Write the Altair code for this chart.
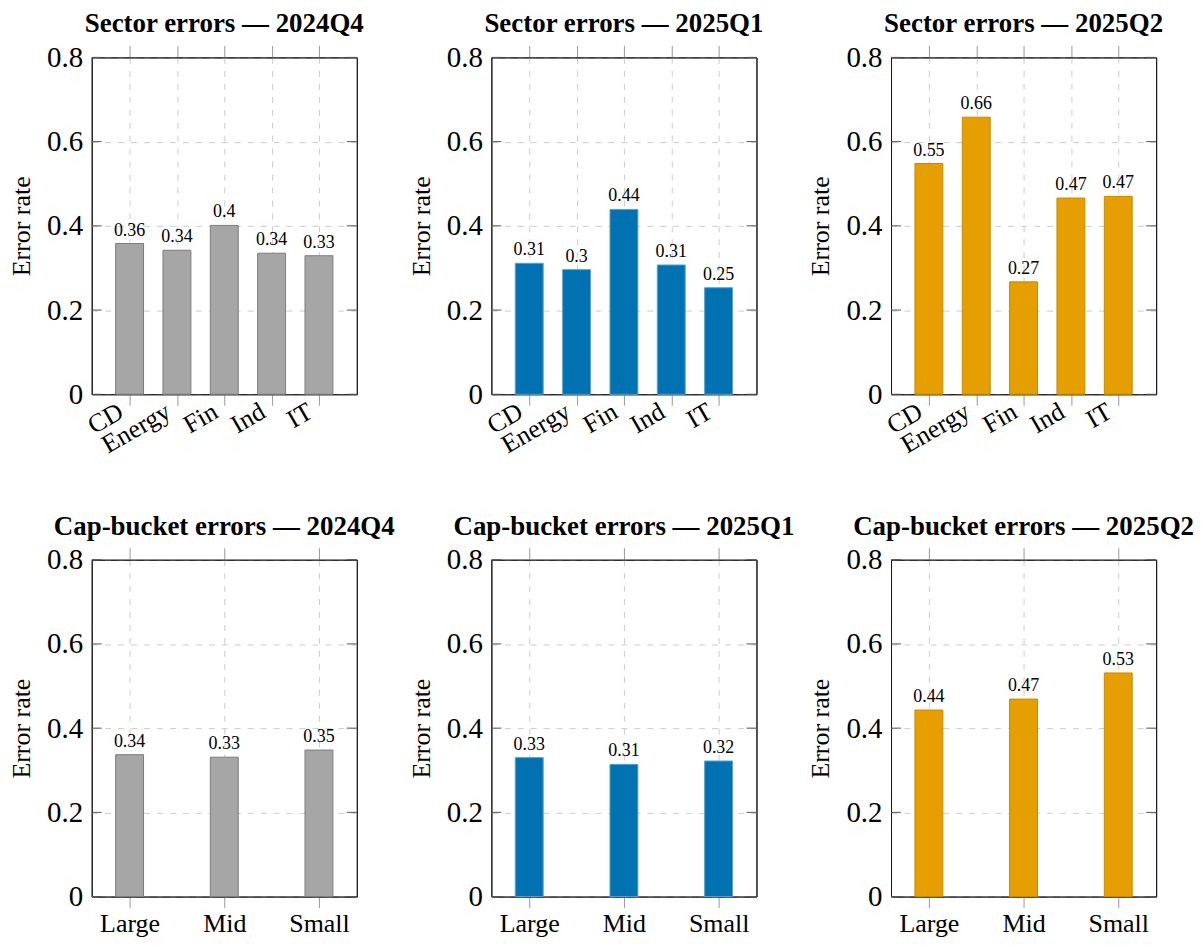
import altair as alt
import pandas as pd

quarters = ["2024Q4", "2025Q1", "2025Q2"]
sectors = ["CD", "Energy", "Fin", "Ind", "IT"]
sector_2024Q4 = [0.358, 0.342, 0.401, 0.335, 0.329]
sector_2025Q1 = [0.311, 0.296, 0.439, 0.307, 0.253]
sector_2025Q2 = [0.548, 0.658, 0.267, 0.466, 0.470]
caps = ["Large", "Mid", "Small"]
cap_2024Q4 = [0.337, 0.331, 0.348]
cap_2025Q1 = [0.330, 0.314, 0.322]
cap_2025Q2 = [0.443, 0.469, 0.531]
y_ticks = [0, 0.2, 0.4, 0.6, 0.8]

fills = ["#a6a6a6", "#0072b2", "#e69f00"]
strokes = ["#7c7c7c", "#5b9fd0", "#c68a00"]

FONT = "Liberation Serif"
FRAME = "#1a1a1a"
W, H = 266, 338


def panel(title, cats, vals, qi, rotate):
    df = pd.DataFrame({"cat": cats, "v": vals})
    tdf = pd.DataFrame({"v": y_ticks})
    pad = 0.8 if len(cats) == 5 else 0.4
    xscale = alt.Scale(type="point", domain=cats, padding=pad)
    yscale = alt.Scale(domain=[0, 0.8], nice=False, zero=True)
    common_x = dict(title=None, domain=True, domainColor=FRAME, domainWidth=1,
                    grid=True, gridColor="#cccccc", gridDash=[6, 7],
                    tickColor="#999999", tickSize=11, labelFont=FONT,
                    labelFontSize=26, labelColor="#000")
    if rotate:
        bottom_axis = alt.Axis(labelAngle=330, labelAlign="right", labelBaseline="middle",
                               labelPadding=4, labelOffset=-9, **common_x)
    else:
        bottom_axis = alt.Axis(labelAngle=0, labelPadding=3, **common_x)
    top_axis = alt.Axis(orient="top", title=None, domain=True, domainColor=FRAME,
                        domainWidth=1, grid=False, labels=False,
                        tickColor="#999999", tickSize=12)
    left_axis = alt.Axis(values=y_ticks, format=".1~f", title="Error rate", domain=True,
                         domainColor=FRAME, domainWidth=1,
                         ticks=False, grid=True, gridColor="#cccccc", gridDash=[6, 7],
                         labelFont=FONT, labelFontSize=29, labelColor="#000",
                         labelPadding=9, titleFont=FONT, titleFontSize=26,
                         titleFontWeight="normal", titleColor="#000", titlePadding=12)
    right_axis = alt.Axis(orient="right", values=y_ticks, title=None, labels=False,
                          ticks=False, grid=False, domain=True, domainColor=FRAME,
                          domainWidth=1)
    base = alt.Chart(df)
    bars = base.mark_bar(size=28, fill=fills[qi], stroke=strokes[qi], strokeWidth=1).encode(
        x=alt.X("cat:N", scale=xscale, axis=bottom_axis, sort=cats),
        y=alt.Y("v:Q", scale=yscale, axis=left_axis),
    )
    text = base.mark_text(font=FONT, fontSize=18, baseline="alphabetic", dy=-8,
                          color="#000").encode(
        x=alt.X("cat:N", scale=xscale, axis=top_axis, sort=cats),
        y=alt.Y("v:Q", scale=yscale, axis=None),
        text=alt.Text("v:Q", format=".2~f"),
    )
    tl = alt.Chart(tdf).mark_rule(color="#555555", strokeWidth=1).encode(
        y=alt.Y("v:Q", scale=yscale, axis=None), x=alt.value(0), x2=alt.value(10))
    tr = alt.Chart(tdf).mark_rule(color="#555555", strokeWidth=1).encode(
        y=alt.Y("v:Q", scale=yscale, axis=right_axis), x=alt.value(W - 10), x2=alt.value(W))
    return alt.layer(bars, text, tl, tr).resolve_axis(
        x="independent", y="independent"
    ).properties(
        width=W, height=H,
        title=alt.TitleParams(title, font=FONT, fontSize=27, fontWeight="bold",
                              color="#000", anchor="middle", frame="group", offset=5),
    )


sector_vals = [sector_2024Q4, sector_2025Q1, sector_2025Q2]
cap_vals = [cap_2024Q4, cap_2025Q1, cap_2025Q2]

panels = [panel(f"Sector errors \u2014 {q}", sectors, sector_vals[i], i, True)
          for i, q in enumerate(quarters)]
panels += [panel(f"Cap-bucket errors \u2014 {q}", caps, cap_vals[i], i, False)
           for i, q in enumerate(quarters)]

chart = alt.concat(*panels, columns=3, spacing={"row": 166, "column": 135},
                   bounds="flush").properties(
    padding={"left": 0, "top": 0, "right": 0, "bottom": 0},
    background="white",
).configure_view(stroke=FRAME, strokeWidth=1)

chart.save("out.html", embed_options={"renderer": "svg", "actions": False})
